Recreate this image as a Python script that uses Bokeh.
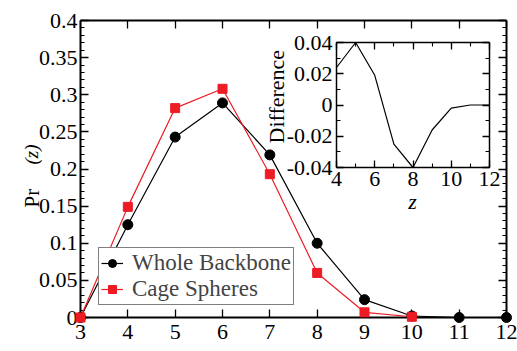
import numpy as np
from bokeh.plotting import figure
from bokeh.models import (LinearAxis, SingleIntervalTicker, CustomJSTickFormatter,
                          Legend, LegendItem, Range1d, GridBox)
from bokeh.core.properties import value
from bokeh.embed import file_html
from bokeh.resources import INLINE

# ---- data ----
z = [3, 4, 5, 6, 7, 8, 9, 10, 11, 12]
whole_backbone = [0.0, 0.125, 0.243, 0.289, 0.219, 0.100, 0.024, 0.002, 0.0, 0.0]
cage_z = [3, 4, 5, 6, 7, 8, 9, 10]
cage_spheres = [0.0, 0.149, 0.282, 0.308, 0.193, 0.060, 0.007, 0.001]
diff_z = [4, 5, 6, 7, 8, 9, 10, 11, 12]
difference = [0.024, 0.040, 0.019, -0.025, -0.040, -0.016, -0.002, 0.0, 0.0]

X_LIM = (3, 12)
Y_LIM = (0, 0.4)

FONT = "Liberation Serif"
RED = "#ed1c24"
W, H = 517, 351
# main frame borders (pixels)
BL, BR, BT, BB = 80, 11, 20, 34


def fmt():
    return CustomJSTickFormatter(code="return String(Math.round(tick * 1000) / 1000);")


def style_axis(ax, show_labels, major_len, minor_len, line_w, size="22px", standoff=3):
    ax.axis_line_width = line_w
    ax.axis_line_color = "black"
    ax.major_tick_in = major_len
    ax.major_tick_out = 0
    ax.minor_tick_in = minor_len
    ax.minor_tick_out = 0
    ax.major_tick_line_width = 1.3
    ax.minor_tick_line_width = 1.1
    ax.major_label_text_font = FONT
    ax.major_label_text_color = "black"
    if show_labels:
        ax.major_label_text_font_size = size
        ax.major_label_standoff = standoff
    else:
        ax.major_label_text_font_size = "0px"
        ax.major_label_standoff = 0


def bare(fig):
    fig.frame_align = False
    fig.xgrid.visible = False
    fig.ygrid.visible = False
    fig.outline_line_color = None


# ---- main figure: frame + axes ----
p = figure(width=W, height=H, x_range=Range1d(*X_LIM), y_range=Range1d(*Y_LIM),
           output_backend="svg", toolbar_location=None,
           min_border_left=BL, min_border_right=BR, min_border_top=BT, min_border_bottom=BB,
           x_axis_location=None, y_axis_location=None)
bare(p)
p.background_fill_color = "white"
p.border_fill_color = "white"

for loc, show in (("below", True), ("above", False)):
    ax = LinearAxis(ticker=SingleIntervalTicker(interval=1, num_minor_ticks=0), formatter=fmt())
    style_axis(ax, show, 8, 0, 2, standoff=7)
    p.add_layout(ax, loc)
for loc, show in (("left", True), ("right", False)):
    ax = LinearAxis(ticker=SingleIntervalTicker(interval=0.05, num_minor_ticks=5), formatter=fmt())
    style_axis(ax, show, 8, 4, 2, standoff=3)
    p.add_layout(ax, loc)

# ---- data layer: same scale as the main frame, but unclipped (frame = whole canvas) ----
xs = (X_LIM[1] - X_LIM[0]) / (W - BL - BR)
ys = (Y_LIM[1] - Y_LIM[0]) / (H - BT - BB)
dl = figure(width=W, height=H,
            x_range=Range1d(X_LIM[0] - BL * xs, X_LIM[1] + BR * xs),
            y_range=Range1d(Y_LIM[0] - BB * ys, Y_LIM[1] + BT * ys),
            output_backend="svg", toolbar_location=None,
            min_border=0, x_axis_location=None, y_axis_location=None)
bare(dl)
dl.background_fill_alpha = 0
dl.border_fill_alpha = 0

l1 = dl.line(z, whole_backbone, line_color="black", line_width=1.2)
s1 = dl.scatter(z, whole_backbone, marker="circle", size=10, fill_color="black", line_color="black")
l2 = dl.line(cage_z, cage_spheres, line_color=RED, line_width=1.2)
s2 = dl.scatter(cage_z, cage_spheres, marker="square", size=9, fill_color=RED, line_color=RED)

legend = Legend(items=[LegendItem(label="Whole Backbone", renderers=[l1, s1]),
                       LegendItem(label="Cage Spheres", renderers=[l2, s2])],
                location=(98, 46), label_text_font=FONT, label_text_font_size="23px",
                border_line_color="black", border_line_width=1.5, padding=2, spacing=0,
                glyph_width=22, glyph_height=20, label_height=20, label_standoff=9, margin=0,
                background_fill_color="white", background_fill_alpha=1)
dl.add_layout(legend)

# ---- inset (full-size transparent overlay whose frame sits top-right) ----
inset = figure(width=W, height=H, x_range=Range1d(4, 12), y_range=Range1d(-0.04, 0.04),
               output_backend="svg", toolbar_location=None,
               min_border_left=336, min_border_right=28, min_border_top=42, min_border_bottom=184,
               x_axis_location=None, y_axis_location=None)
bare(inset)
inset.background_fill_color = "white"
inset.border_fill_alpha = 0

for loc, show in (("below", True), ("above", False)):
    ax = LinearAxis(ticker=SingleIntervalTicker(interval=2, num_minor_ticks=2), formatter=fmt())
    style_axis(ax, show, 7, 4, 1.5, standoff=4)
    inset.add_layout(ax, loc)
for loc, show in (("left", True), ("right", False)):
    ax = LinearAxis(ticker=SingleIntervalTicker(interval=0.02, num_minor_ticks=2), formatter=fmt())
    style_axis(ax, show, 7, 4, 1.5, standoff=4)
    inset.add_layout(ax, loc)

inset.line(diff_z, difference, line_color="black", line_width=1.2)

# ---- text layer (axis titles), canvas pixels measured from the bottom-left ----
txt = figure(width=W, height=H, x_range=Range1d(0, W), y_range=Range1d(0, H),
             output_backend="svg", toolbar_location=None,
             min_border=0, x_axis_location=None, y_axis_location=None)
bare(txt)
txt.background_fill_alpha = 0
txt.border_fill_alpha = 0

txt.text(x=[31], y=[H - 207], text=["Pr"], angle=np.pi / 2, text_font=value(FONT),
         text_font_size="21px", text_align="left", text_baseline="alphabetic", text_color="black")
txt.text(x=[31], y=[H - 164], text=["(z)"], angle=np.pi / 2, text_font=value(FONT),
         text_font_style="italic", text_font_size="19px", text_align="left",
         text_baseline="alphabetic", text_color="black")
txt.text(x=[276], y=[H - 143], text=["Difference"], angle=np.pi / 2, text_font=value(FONT),
         text_font_size="22px", text_align="left", text_baseline="alphabetic", text_color="black")
txt.text(x=[293, 412], y=[H - 354, H - 201], text=["z", "z"], text_font=value(FONT),
         text_font_style="italic", text_font_size="22px", text_align="center",
         text_baseline="alphabetic", text_color="black")

layout = GridBox(children=[(p, 0, 0), (dl, 0, 0), (inset, 0, 0), (txt, 0, 0)])

open("out.html", "w").write(file_html(layout, INLINE))
